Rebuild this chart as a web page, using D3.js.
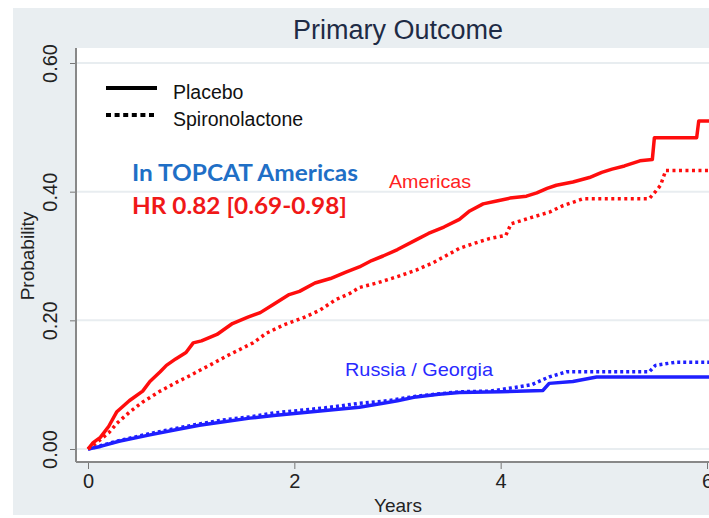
<!DOCTYPE html>
<html>
<head>
<meta charset="utf-8">
<script src="https://cdn.jsdelivr.net/npm/d3@7"></script>
<style>
  body { margin: 0; background: #fff; }
  svg { display: block; font-family: "Liberation Sans", Arial, sans-serif; }
</style>
</head>
<body>
<div id="chart"></div>
<script>
// Kaplan-Meier estimates: [years, probability]
const americasPlacebo = [
  [0, 0], [0.05, 0.01], [0.12, 0.018], [0.2, 0.035], [0.28, 0.058], [0.4, 0.075],
  [0.53, 0.09], [0.6, 0.105], [0.7, 0.12], [0.76, 0.13], [0.85, 0.14], [0.95, 0.15],
  [1.02, 0.165], [1.1, 0.168], [1.25, 0.178], [1.4, 0.195], [1.55, 0.205], [1.67, 0.212],
  [1.8, 0.225], [1.95, 0.24], [2.05, 0.245], [2.2, 0.258], [2.35, 0.265], [2.5, 0.275],
  [2.63, 0.283], [2.75, 0.293], [2.86, 0.3], [3.0, 0.31], [3.18, 0.325], [3.3, 0.335],
  [3.45, 0.345], [3.6, 0.357], [3.7, 0.37], [3.83, 0.381], [3.95, 0.385], [4.09, 0.39],
  [4.25, 0.393], [4.35, 0.398], [4.45, 0.405], [4.54, 0.41], [4.7, 0.415], [4.86, 0.422],
  [4.98, 0.43], [5.08, 0.435], [5.2, 0.44], [5.35, 0.448], [5.47, 0.45], [5.49, 0.484],
  [5.9, 0.484], [5.92, 0.51], [6.05, 0.51]
];
const americasSpiro = [
  [0, 0], [0.1, 0.012], [0.2, 0.025], [0.28, 0.04], [0.4, 0.057], [0.53, 0.073],
  [0.7, 0.09], [0.85, 0.103], [1.0, 0.115], [1.08, 0.122], [1.2, 0.132], [1.35, 0.145],
  [1.5, 0.157], [1.6, 0.165], [1.73, 0.18], [1.9, 0.193], [2.1, 0.205], [2.25, 0.216],
  [2.4, 0.232], [2.54, 0.242], [2.63, 0.251], [2.8, 0.258], [3.0, 0.268], [3.18, 0.278],
  [3.35, 0.29], [3.5, 0.303], [3.6, 0.312], [3.75, 0.32], [3.89, 0.327], [4.05, 0.332],
  [4.1, 0.35], [4.3, 0.36], [4.47, 0.368], [4.6, 0.378], [4.8, 0.389], [5.44, 0.389],
  [5.5, 0.4], [5.55, 0.41], [5.6, 0.433], [6.05, 0.433]
];
const russiaPlacebo = [
  [0, 0], [0.12, 0.004], [0.3, 0.012], [0.6, 0.022], [0.85, 0.03], [1.08, 0.037],
  [1.3, 0.042], [1.57, 0.048], [1.8, 0.052], [2.05, 0.056], [2.3, 0.06], [2.63, 0.065],
  [2.86, 0.071], [3.0, 0.075], [3.18, 0.081], [3.4, 0.085], [3.6, 0.088], [4.0, 0.089],
  [4.41, 0.091], [4.47, 0.102], [4.7, 0.105], [4.93, 0.112], [6.05, 0.112]
];
const russiaSpiro = [
  [0, 0], [0.12, 0.005], [0.3, 0.013], [0.6, 0.024], [0.85, 0.032], [1.08, 0.039],
  [1.3, 0.045], [1.57, 0.05], [1.8, 0.056], [2.05, 0.06], [2.3, 0.064], [2.63, 0.071],
  [2.86, 0.074], [3.18, 0.082], [3.6, 0.089], [3.9, 0.09], [4.15, 0.096], [4.3, 0.1],
  [4.47, 0.112], [4.64, 0.12], [5.44, 0.12], [5.5, 0.13], [5.7, 0.135], [6.05, 0.135]
];

const xTicks = [0, 2, 4, 6];
const yTicks = [0, 0.2, 0.4, 0.6];

const width = 709, height = 518;
const bg = '#e9eef1';

const svg = d3.select('#chart').append('svg')
  .attr('width', width)
  .attr('height', height);

// outer grey panel and white plot region
svg.append('rect').attr('x', 13).attr('y', 8).attr('width', width - 13).attr('height', 507).attr('fill', bg);
svg.append('rect').attr('x', 76).attr('y', 48).attr('width', width - 76).attr('height', 414).attr('fill', '#fff');

const x = d3.scaleLinear().domain([0, 6]).range([88, 707]);
const y = d3.scaleLinear().domain([0, 0.6]).range([449, 63]);

// gridlines
svg.append('g').selectAll('line')
  .data(yTicks)
  .join('line')
  .attr('x1', 76).attr('x2', width)
  .attr('y1', d => y(d)).attr('y2', d => y(d))
  .attr('stroke', '#e8edf0')
  .attr('stroke-width', 2);

// y axis
const yAxis = svg.append('g')
  .attr('transform', 'translate(76,0)')
  .call(d3.axisLeft(y).tickValues(yTicks).tickFormat(d3.format('.2f')).tickSize(6).tickPadding(8));
yAxis.select('.domain').remove();
yAxis.selectAll('.tick line').attr('stroke', '#777');
yAxis.selectAll('.tick text')
  .attr('transform', 'rotate(-90)')
  .attr('x', 0).attr('y', -26)
  .attr('dy', '0.35em')
  .attr('text-anchor', 'middle')
  .style('font-size', '20px')
  .style('font-family', '"Liberation Sans", Arial, sans-serif')
  .attr('fill', '#222');
svg.append('line')
  .attr('x1', 76).attr('x2', 76).attr('y1', 48).attr('y2', 462)
  .attr('stroke', '#888').attr('stroke-width', 2);

// x axis
const xAxis = svg.append('g')
  .attr('transform', 'translate(0,462)')
  .call(d3.axisBottom(x).tickValues(xTicks).tickFormat(d3.format('d')).tickSize(7).tickPadding(5));
xAxis.select('.domain').remove();
xAxis.selectAll('.tick line').attr('stroke', '#777');
xAxis.selectAll('.tick text')
  .style('font-size', '20px')
  .style('font-family', '"Liberation Sans", Arial, sans-serif')
  .attr('fill', '#222');
svg.append('line')
  .attr('x1', 76).attr('x2', width).attr('y1', 462).attr('y2', 462)
  .attr('stroke', '#888').attr('stroke-width', 2);

// axis titles
svg.append('text')
  .attr('transform', `translate(34,256) rotate(-90)`)
  .attr('text-anchor', 'middle')
  .style('font-size', '19px')
  .attr('fill', '#222')
  .text('Probability');
svg.append('text')
  .attr('x', 398).attr('y', 512)
  .attr('text-anchor', 'middle')
  .style('font-size', '19px')
  .attr('fill', '#222')
  .text('Years');

// title
svg.append('text')
  .attr('x', 398).attr('y', 39)
  .attr('text-anchor', 'middle')
  .style('font-size', '27px')
  .attr('fill', '#1e2b45')
  .text('Primary Outcome');

// curves (corners of visible steps are kept in the data)
const line = d3.line()
  .x(d => x(d[0]))
  .y(d => y(d[1]));

const plot = svg.append('g');
plot.append('clipPath').attr('id', 'clip')
  .append('rect').attr('x', 76).attr('y', 48).attr('width', width - 76).attr('height', 414);
const curves = plot.append('g').attr('clip-path', 'url(#clip)');

const series = [
  { data: russiaSpiro, color: '#1f1fff', dash: '3,3' },
  { data: russiaPlacebo, color: '#1f1fff', dash: null },
  { data: americasSpiro, color: '#ff0d0d', dash: '3,3.5' },
  { data: americasPlacebo, color: '#ff0d0d', dash: null }
];

curves.selectAll('path')
  .data(series)
  .join('path')
  .attr('d', d => line(d.data))
  .attr('fill', 'none')
  .attr('stroke', d => d.color)
  .attr('stroke-width', 3.5)
  .attr('stroke-linejoin', 'round')
  .attr('stroke-dasharray', d => d.dash);

// legend
const legend = svg.append('g');
legend.append('line')
  .attr('x1', 106).attr('x2', 157).attr('y1', 88).attr('y2', 88)
  .attr('stroke', '#000').attr('stroke-width', 4);
legend.append('line')
  .attr('x1', 106).attr('x2', 157).attr('y1', 115).attr('y2', 115)
  .attr('stroke', '#000').attr('stroke-width', 4)
  .attr('stroke-dasharray', '5,3.6');
legend.append('text')
  .attr('x', 173).attr('y', 99)
  .style('font-size', '19.5px')
  .attr('fill', '#111')
  .text('Placebo');
legend.append('text')
  .attr('x', 173).attr('y', 126)
  .style('font-size', '19.5px')
  .attr('fill', '#111')
  .text('Spironolactone');

// annotations
svg.append('text')
  .attr('x', 132).attr('y', 181)
  .style('font-family', 'Lato, "Open Sans", sans-serif')
  .style('font-weight', 'bold')
  .style('font-size', '22px')
  .attr('textLength', 226)
  .attr('lengthAdjust', 'spacingAndGlyphs')
  .attr('fill', '#1f6fc6')
  .text('In TOPCAT Americas');
svg.append('text')
  .attr('x', 132).attr('y', 214)
  .style('font-family', 'Lato, "Open Sans", sans-serif')
  .style('font-weight', 'bold')
  .style('font-size', '23px')
  .attr('textLength', 215)
  .attr('lengthAdjust', 'spacingAndGlyphs')
  .attr('fill', '#f01818')
  .text('HR 0.82 [0.69-0.98]');

svg.append('text')
  .attr('x', 389).attr('y', 188)
  .style('font-size', '19px')
  .attr('textLength', 82)
  .attr('lengthAdjust', 'spacingAndGlyphs')
  .attr('fill', '#ff2222')
  .text('Americas');
svg.append('text')
  .attr('x', 345).attr('y', 376)
  .style('font-size', '19px')
  .attr('textLength', 148)
  .attr('lengthAdjust', 'spacingAndGlyphs')
  .attr('fill', '#2a2aff')
  .text('Russia / Georgia');
</script>
</body>
</html>
